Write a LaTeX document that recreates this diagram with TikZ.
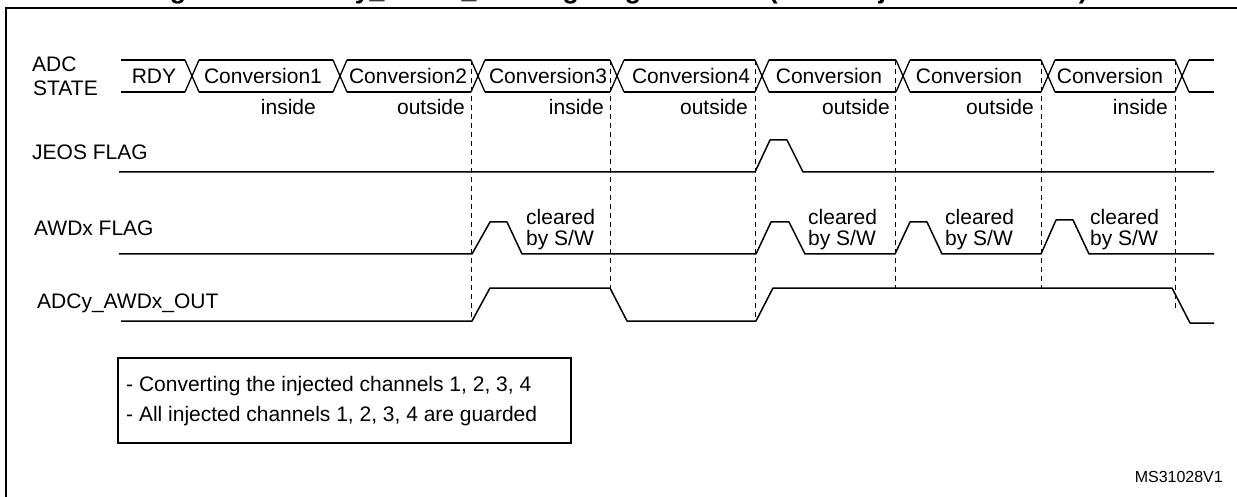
\documentclass[tikz,border=0pt]{standalone}
\usepackage{fontspec}
\setmainfont{Liberation Sans}
\begin{document}
\begin{tikzpicture}[x=1pt,y=-1pt,
  lbl/.style={inner sep=0pt, font=\fontsize{21}{22}\selectfont},
  sig/.style={line width=1.5pt, line join=round},
  busline/.style={line width=1.3pt},
  guide/.style={line width=0.9pt, dash pattern=on 5pt off 4pt},
]
\useasboundingbox (0,0) rectangle (1237,497);
\clip (0,0) rectangle (1237,497);
\fill[white] (0,0) rectangle (1237,497);

% cropped title
\node[anchor=base west, inner sep=0pt, font=\bfseries\fontsize{26.7}{30}\selectfont] (title) at (146,-1.5)
  {Figure 106. ADCy\_AWDx\_OUT signal generation (on all injected channels)};

% frame
\draw[line width=2.2pt] (6,505) -- (6,8) -- (1245,8);

% row labels
\node[lbl, anchor=base west] (adc)   at (32,72) {ADC};
\node[lbl, anchor=base west] (state) at (33,95.5) {STATE};
\node[lbl, anchor=base west] (jeos)  at (32,160) {JEOS FLAG};
\node[lbl, anchor=base west] (awd)   at (34,236) {AWDx FLAG};
\node[lbl, anchor=base west] (out)   at (37,308) {ADCy\_AWDx\_OUT};

% bus
\foreach \a/\b in {121/185, 199/333, 347/471, 485/610, 624/755, 769/896, 910/1041, 1055/1175, 1189/1214}
  \draw[busline] (\a,60) -- (\b,60) (\a,92) -- (\b,92);
\foreach \a in {185,333,471,610,755,896,1041,1175}
  \draw[busline] (\a,60) -- (\a+14,92) (\a,92) -- (\a+14,60);

\node[lbl, anchor=base] (s0) at (154,84) {RDY};
\node[lbl, anchor=base] (s1) at (263,84) {Conversion1};
\node[lbl, anchor=base] (s2) at (408,84) {Conversion2};
\node[lbl, anchor=base] (s3) at (548,84) {Conversion3};
\node[lbl, anchor=base] (s4) at (691,84) {Conversion4};
\node[lbl, anchor=base] (s5) at (829,84) {Conversion};
\node[lbl, anchor=base] (s6) at (969,84) {Conversion};
\node[lbl, anchor=base] (s7) at (1110,84) {Conversion};

\node[lbl, anchor=base east] (r1) at (316,115) {inside};
\node[lbl, anchor=base east] (r2) at (465,115) {outside};
\node[lbl, anchor=base east] (r3) at (604,115) {inside};
\node[lbl, anchor=base east] (r4) at (748,115) {outside};
\node[lbl, anchor=base east] (r5) at (890,115) {outside};
\node[lbl, anchor=base east] (r6) at (1034,115) {outside};
\node[lbl, anchor=base east] (r7) at (1168,115) {inside};

% dashed guides
\draw[guide] (471,60) -- (471,321);
\draw[guide] (610,60) -- (610,288);
\draw[guide] (755,60) -- (755,321);
\draw[guide] (895,60) -- (895,288);
\draw[guide] (1041,60) -- (1041,288);
\draw[guide] (1175,60) -- (1175,310);

% JEOS flag
\draw[sig] (119,172) -- (755,172) -- (770,140) -- (787,140) -- (803,172) -- (1214,172);

% AWDx flag
\draw[sig] (119,254) -- (472,254) -- (490,222) -- (507,222) -- (522,254)
  -- (756,254) -- (771,222) -- (789,222) -- (805,254)
  -- (895,254) -- (910,222) -- (927,222) -- (942,254)
  -- (1041,254) -- (1056,220) -- (1073,220) -- (1089,254) -- (1214,254);

\node[lbl, anchor=base west] (c1a) at (526,225) {cleared};
\node[lbl, anchor=base west] (c1b) at (526,245) {by S/W};
\node[lbl, anchor=base west] (c2a) at (808,225) {cleared};
\node[lbl, anchor=base west] (c2b) at (808,245) {by S/W};
\node[lbl, anchor=base west] (c3a) at (945,225) {cleared};
\node[lbl, anchor=base west] (c3b) at (945,245) {by S/W};
\node[lbl, anchor=base west] (c4a) at (1090,225) {cleared};
\node[lbl, anchor=base west] (c4b) at (1090,245) {by S/W};

% ADCy_AWDx_OUT
\draw[sig] (121,321) -- (472,321) -- (490,288) -- (610,288) -- (627,321)
  -- (756,321) -- (773,288) -- (1172,288) -- (1190,323) -- (1214,323);

% note box
\draw[line width=1.2pt] (118,358) rectangle (571,443);
\node[lbl, anchor=base west] (n1) at (126,391) {- Converting the injected channels 1, 2, 3, 4};
\node[lbl, anchor=base west] (n2) at (126,421) {- All injected channels 1, 2, 3, 4 are guarded};

\node[inner sep=0pt, anchor=base east, font=\fontsize{16}{18}\selectfont] (code) at (1223,482) {MS31028V1};
\end{tikzpicture}
\end{document}
